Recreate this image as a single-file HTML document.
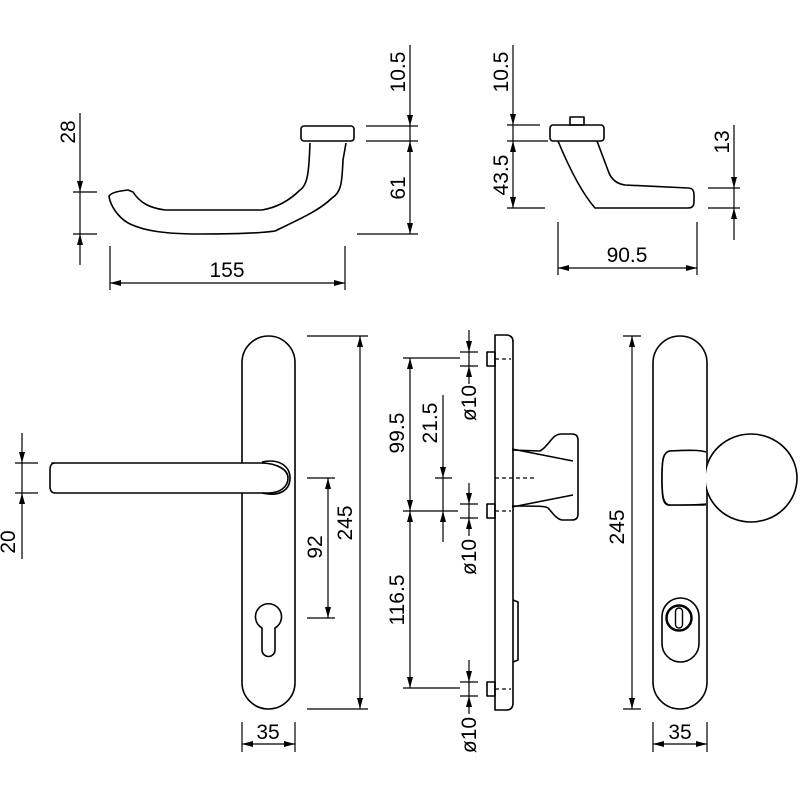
<!DOCTYPE html>
<html><head><meta charset="utf-8"><style>
html,body{margin:0;padding:0;background:#fff}
svg{display:block}
text{font-family:"Liberation Sans",sans-serif;font-size:21px;fill:#000}
</style></head><body>
<svg width="800" height="800" viewBox="0 0 800 800" xmlns="http://www.w3.org/2000/svg">
<defs>
<marker id="a" markerUnits="userSpaceOnUse" markerWidth="12" markerHeight="8" refX="11" refY="3" orient="auto"><path d="M0,0 L11,3 L0,6 z" fill="#000"/></marker>
</defs>
<g fill="none" stroke="#000" stroke-width="1.6" stroke-linejoin="round">
<!-- top-left lever -->
<rect x="301" y="126" width="53" height="15" rx="3"/>
<path d="M310,143 C309,170 308,185 300,190 C292,198 280,207 262,210 L165,210 C150,208 140,203 133,192 L128,190 C120,191 112,192 109,196 C110,205 118,218 130,224 C145,231 165,234 200,234 C240,234 262,233 275,231 C300,219 320,210 332,198 C342,192 342,180 343,160 L346,143"/>
<!-- top-right lever -->
<rect x="550" y="125" width="54" height="16" rx="3"/>
<rect x="570" y="117" width="14" height="8"/>
<path d="M558,141 C570,170 582,193 595,208 L688,208 C694,208 694,204 694,200 L694,195 C694,190 692,188 688,188 L625,185 C618,184 612,180 609,173 L597,141"/>
<!-- left plate -->
<rect x="242" y="336" width="53" height="373" rx="26.5"/>
<path d="M52,463 L260,463 C278,463 288,470 288,478 C288,487 280,493 268,493 L55,493 C51,493 50,490 50,486 L50,470 C50,466 51,463 55,463 Z" fill="#fff"/>
<path d="M262,462 C280,458 290,467 290,478 C290,490 280,497 262,493" />
<circle cx="268" cy="617" r="13" stroke="none"/>
<path d="M262,628 A13,13 0 1 1 275,628 L275,650 A6.5,6.5 0 0 1 262,650 Z"/>
<!-- side view plate -->
<path d="M495,335 L506,335 Q513,335 513,342 L513,703 Q513,710 506,710 L495,710 Z"/>
<rect x="487" y="352" width="8" height="14"/>
<rect x="487" y="504" width="8" height="14"/>
<rect x="487" y="682" width="8" height="14"/>
<path d="M513,600 L518,602 L518,660 L513,662"/>
<path d="M512,450 L540,451 C546,448 550,440 555,436 Q558,434 562,434 L572,434 Q578,434 578,440 L578,514 Q578,520 572,520 L562,520 C556,519 552,512 548,508 C545,506 540,506 512,506"/>
<path d="M512,449 L573,461 M512,507 L573,495"/>
<!-- right plate -->
<rect x="653" y="336" width="54" height="373" rx="27"/>
<path d="M705,452 C703,470 703,488 705,505 L669,505 C663,505 662,498 662,478 C662,460 663,452 670,451 Z" fill="#fff"/>
<ellipse cx="751" cy="478" rx="46" ry="44" fill="#fff"/>
<path d="M706,452 C700,450 690,450 670,451 C663,452 662,460 662,478 C662,496 663,505 670,505 C690,505 700,505 706,504" fill="#fff"/>
<rect x="662" y="598" width="37" height="64" rx="18.5"/>
<circle cx="679" cy="618" r="12.5" stroke-width="2.5"/>
<rect x="675.5" y="608" width="7" height="20" rx="3.5" stroke-width="1.4"/>
</g>
<g fill="none" stroke="#000" stroke-width="1.2" stroke-dasharray="4,3">
<path d="M495,359 L511,359 M495,511 L511,511 M495,689 L511,689 M495,478 L536,478"/>
</g>
<!-- dimensions -->
<g fill="none" stroke="#000" stroke-width="1.2">
<!-- 28 -->
<path d="M73,192 L97,192 M73,234 L97,234"/>
<path d="M80,113 L80,192" marker-end="url(#a)"/>
<path d="M80,265 L80,234" marker-end="url(#a)"/>
<path d="M80,192 L80,234"/>
<!-- 155 -->
<path d="M110,246 L110,290 M345,246 L345,290"/>
<path d="M228,283 L110,283" marker-end="url(#a)"/>
<path d="M228,283 L345,283" marker-end="url(#a)"/>
<!-- 10.5 / 61 -->
<path d="M366,126 L418,126 M366,141 L418,141 M357,234 L418,234"/>
<path d="M410,45 L410,126" marker-end="url(#a)"/>
<path d="M410,126 L410,141"/>
<path d="M410,188 L410,141" marker-end="url(#a)"/>
<path d="M410,188 L410,234" marker-end="url(#a)"/>
<!-- right top 10.5/43.5 -->
<path d="M507,125 L540,125 M507,141 L548,141 M507,208 L545,208"/>
<path d="M513,45 L513,125" marker-end="url(#a)"/>
<path d="M513,125 L513,141"/>
<path d="M513,175 L513,141" marker-end="url(#a)"/>
<path d="M513,175 L513,208" marker-end="url(#a)"/>
<!-- 13 -->
<path d="M708,188 L740,188 M708,208 L740,208"/>
<path d="M734,125 L734,188" marker-end="url(#a)"/>
<path d="M734,188 L734,208"/>
<path d="M734,240 L734,208" marker-end="url(#a)"/>
<!-- 90.5 -->
<path d="M558,222 L558,275 M697,222 L697,275"/>
<path d="M627,268 L558,268" marker-end="url(#a)"/>
<path d="M627,268 L697,268" marker-end="url(#a)"/>
<!-- 20 -->
<path d="M15,463 L38,463 M15,493 L38,493"/>
<path d="M22,433 L22,463" marker-end="url(#a)"/>
<path d="M22,463 L22,493"/>
<path d="M22,559 L22,493" marker-end="url(#a)"/>
<!-- 92 / 245 left -->
<path d="M307,478 L335,478 M307,618 L335,618 M307,336 L368,336 M307,709 L368,709"/>
<path d="M328,548 L328,478" marker-end="url(#a)"/>
<path d="M328,548 L328,618" marker-end="url(#a)"/>
<path d="M360,522 L360,336" marker-end="url(#a)"/>
<path d="M360,522 L360,709" marker-end="url(#a)"/>
<!-- 35 left -->
<path d="M242,722 L242,752 M295,722 L295,752"/>
<path d="M268,744 L242,744" marker-end="url(#a)"/>
<path d="M268,744 L295,744" marker-end="url(#a)"/>
<!-- side dims -->
<path d="M403,358 L460,358 M403,511 L458,511 M403,688 L460,688 M435,478 L452,478"/>
<path d="M410,435 L410,358" marker-end="url(#a)"/>
<path d="M410,435 L410,511" marker-end="url(#a)"/>
<path d="M410,600 L410,511" marker-end="url(#a)"/>
<path d="M410,600 L410,688" marker-end="url(#a)"/>
<path d="M443,395 L443,478" marker-end="url(#a)"/>
<path d="M443,478 L443,511"/>
<path d="M443,542 L443,511" marker-end="url(#a)"/>
<!-- ø10 -->
<path d="M460,352 L478,352 M460,366 L478,366 M460,504 L478,504 M460,518 L478,518 M460,682 L478,682 M460,696 L478,696"/>
<path d="M469,330 L469,352" marker-end="url(#a)"/>
<path d="M469,352 L469,366"/>
<path d="M469,384 L469,366" marker-end="url(#a)"/>
<path d="M469,483 L469,504" marker-end="url(#a)"/>
<path d="M469,504 L469,518"/>
<path d="M469,536 L469,518" marker-end="url(#a)"/>
<path d="M469,660 L469,682" marker-end="url(#a)"/>
<path d="M469,682 L469,696"/>
<path d="M469,714 L469,696" marker-end="url(#a)"/>
<!-- right 245 -->
<path d="M623,336 L641,336 M623,709 L641,709"/>
<path d="M632,522 L632,336" marker-end="url(#a)"/>
<path d="M632,522 L632,709" marker-end="url(#a)"/>
<!-- 35 right -->
<path d="M653,722 L653,752 M707,722 L707,752"/>
<path d="M680,744 L653,744" marker-end="url(#a)"/>
<path d="M680,744 L707,744" marker-end="url(#a)"/>
</g>
<g text-anchor="middle">
<text x="227" y="277">155</text>
<text x="627" y="262">90.5</text>
<text x="268" y="739">35</text>
<text x="680" y="739">35</text>
<text transform="translate(75,132) rotate(-90)">28</text>
<text transform="translate(405,72) rotate(-90)">10.5</text>
<text transform="translate(405,188) rotate(-90)">61</text>
<text transform="translate(508,72) rotate(-90)">10.5</text>
<text transform="translate(508,175) rotate(-90)">43.5</text>
<text transform="translate(729,142) rotate(-90)">13</text>
<text transform="translate(15,542) rotate(-90)">20</text>
<text transform="translate(322,547) rotate(-90)">92</text>
<text transform="translate(352,523) rotate(-90)">245</text>
<text transform="translate(404,433) rotate(-90)">99.5</text>
<text transform="translate(437,423) rotate(-90)">21.5</text>
<text transform="translate(404,600) rotate(-90)">116.5</text>
<text transform="translate(476,403) rotate(-90)">ø10</text>
<text transform="translate(476,557) rotate(-90)">ø10</text>
<text transform="translate(476,735) rotate(-90)">ø10</text>
<text transform="translate(624,527) rotate(-90)">245</text>
</g>
</svg>
</body></html>
